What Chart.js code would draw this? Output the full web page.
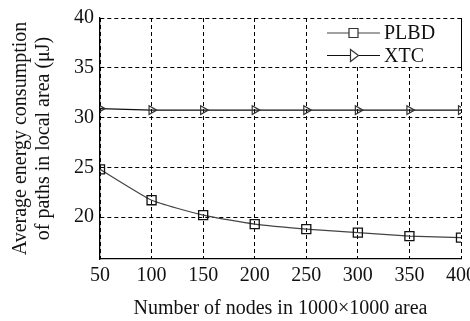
<!DOCTYPE html>
<html>
<head>
<meta charset="utf-8">
<script src="https://cdn.jsdelivr.net/npm/chart.js"></script>
<style>
  html, body { margin: 0; padding: 0; background: #fff; }
  #wrap { width: 470px; height: 321px; }
</style>
</head>
<body>
<div id="wrap"><canvas id="myChart" width="470" height="321"></canvas></div>
<script>
const nodeCounts = [50, 100, 150, 200, 250, 300, 350, 400];
const plbdEnergy = [24.8, 21.7, 20.2, 19.3, 18.8, 18.45, 18.1, 17.95];
const xtcEnergy = [30.9, 30.75, 30.75, 30.75, 30.75, 30.75, 30.75, 30.75];
const yTickValues = [20, 25, 30, 35, 40];
const seriesNames = ['PLBD', 'XTC'];

const serif = "'Liberation Serif', 'Times New Roman', serif";

function toPoints(values) {
    let pts = [];
    for (let i = 0; i < nodeCounts.length; i++) {
        pts.push({ x: nodeCounts[i], y: values[i] });
    }
    return pts;
}

// legend box sitting inside the top-right corner of the plot
const boxLegend = {
    id: 'boxLegend',
    afterDatasetsDraw(chart) {
        const ctx = chart.ctx;
        const area = chart.chartArea;
        const yScale = chart.scales.y;
        const bottom = yScale.getPixelForValue(35) - 1;
        const left = area.right - 120;
        ctx.save();
        ctx.fillStyle = '#fff';
        ctx.fillRect(left, area.top + 1, area.right - left - 1, bottom - area.top - 1);
        ctx.strokeStyle = '#000';
        ctx.lineWidth = 1;
        ctx.beginPath();
        ctx.moveTo(area.right + 0.5, area.top);
        ctx.lineTo(area.right + 0.5, bottom + 1);
        ctx.stroke();

        const sets = chart.data.datasets;
        for (let i = 0; i < sets.length; i++) {
            const y = area.top + 15 + i * 22.5;
            const x0 = left - 14;
            const x1 = left + 39;
            const mx = (x0 + x1) / 2;
            ctx.strokeStyle = sets[i].borderColor;
            ctx.lineWidth = 1.2;
            ctx.beginPath();
            ctx.moveTo(x0, y);
            ctx.lineTo(x1, y);
            ctx.stroke();
            ctx.fillStyle = '#fff';
            ctx.strokeStyle = '#333';
            ctx.beginPath();
            if (sets[i].pointStyle === 'rect') {
                ctx.rect(mx - 4.5, y - 4.5, 9, 9);
            } else {
                ctx.moveTo(mx - 3, y - 6);
                ctx.lineTo(mx + 5, y);
                ctx.lineTo(mx - 3, y + 6);
                ctx.closePath();
            }
            ctx.fill();
            ctx.stroke();
            ctx.fillStyle = '#111';
            ctx.font = '20px ' + serif;
            ctx.textBaseline = 'middle';
            ctx.textAlign = 'left';
            ctx.fillText(sets[i].label, x1 + 4, y + 1);
        }
        ctx.restore();
    }
};

const ctx = document.getElementById('myChart').getContext('2d');
const myChart = new Chart(ctx, {
    type: 'line',
    data: {
        datasets: [
            {
                label: seriesNames[0],
                data: toPoints(plbdEnergy),
                borderColor: '#444',
                borderWidth: 1.2,
                pointStyle: 'rect',
                pointRadius: 6.4,
                pointBorderColor: '#111',
                pointBackgroundColor: 'rgba(255,255,255,0)',
                pointBorderWidth: 1.3,
                tension: 0.15,
                fill: false
            },
            {
                label: seriesNames[1],
                data: toPoints(xtcEnergy),
                borderColor: '#111',
                borderWidth: 1.2,
                pointStyle: 'triangle',
                rotation: 90,
                pointRadius: 5,
                pointBorderColor: '#333',
                pointBackgroundColor: 'rgba(255,255,255,0)',
                pointBorderWidth: 1.2,
                fill: false
            }
        ]
    },
    options: {
        responsive: false,
        animation: false,
        layout: { padding: { top: 15, right: 9, left: 0, bottom: 0 } },
        plugins: {
            legend: { display: false },
            tooltip: { enabled: false }
        },
        scales: {
            x: {
                type: 'linear',
                min: 50,
                max: 400,
                ticks: {
                    stepSize: 50,
                    padding: 5,
                    color: '#111',
                    font: { family: serif, size: 20 }
                },
                grid: {
                    color: '#000',
                    lineWidth: 1,
                    drawTicks: false
                },
                // in v4 border.dash dashes the grid lines, the axis line stays solid
                border: { display: true, color: '#000', width: 1.3, dash: [4, 3] },
                title: {
                    display: true,
                    text: 'Number of nodes in 1000×1000 area',
                    color: '#111',
                    font: { family: serif, size: 20 },
                    padding: { top: 0, bottom: 0 }
                },
                afterFit(scale) {
                    scale.height = 62;
                    scale.paddingLeft = 0;
                    scale.paddingRight = 0;
                }
            },
            y: {
                min: 15.8,
                max: 40,
                afterBuildTicks(scale) {
                    scale.ticks = yTickValues.map(v => ({ value: v }));
                },
                ticks: {
                    padding: 6,
                    color: '#111',
                    font: { family: serif, size: 20 }
                },
                grid: {
                    color: '#000',
                    lineWidth: 1,
                    drawTicks: false
                },
                border: { display: true, color: '#000', width: 1.3, dash: [4, 3] },
                title: {
                    display: true,
                    text: ['Average energy consumption', 'of paths in local area (μJ)'],
                    color: '#111',
                    font: { family: serif, size: 20, lineHeight: 1.15 },
                    padding: { top: 9, bottom: 0 }
                },
                afterFit(scale) {
                    scale.width = 100;
                }
            }
        }
    },
    plugins: [boxLegend]
});
</script>
</body>
</html>
